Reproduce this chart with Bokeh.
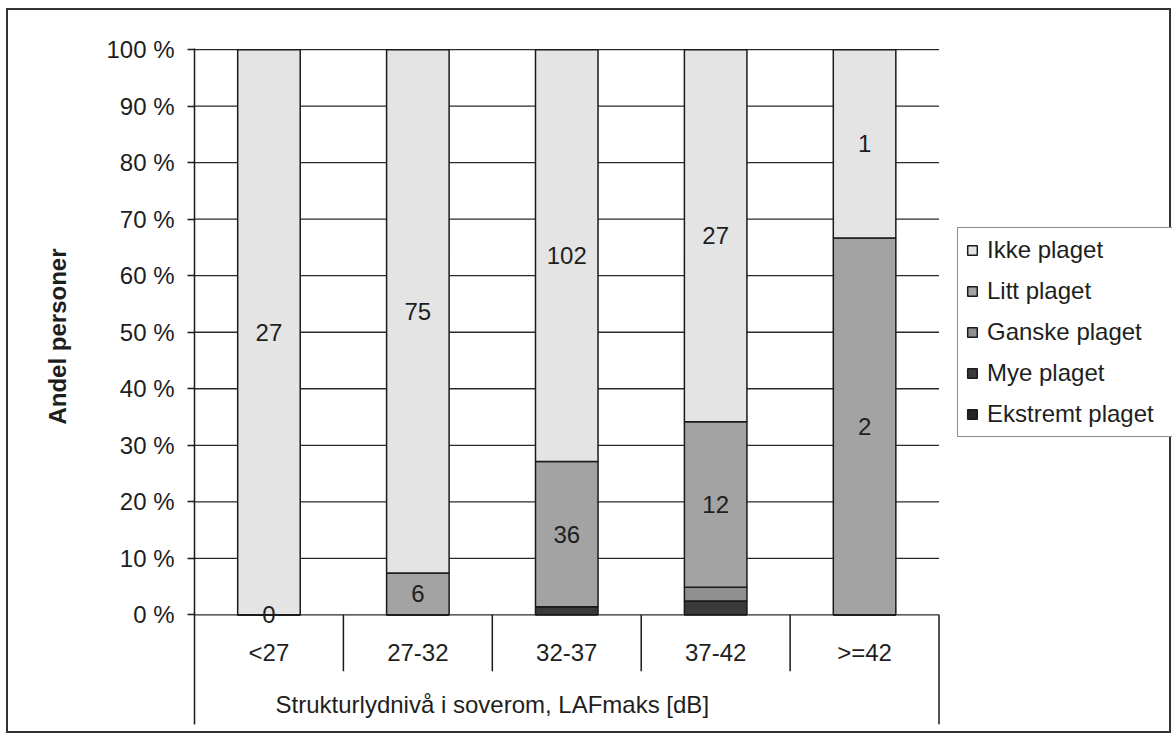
from bokeh.plotting import figure
from bokeh.models import (ColumnDataSource, Range1d, FixedTicker, PrintfTickFormatter,
                          Legend, LegendItem, Title)
from bokeh.core.properties import value
from bokeh.embed import file_html
from bokeh.resources import INLINE

# ---------------- data ----------------
categories = ["<27", "27-32", "32-37", "37-42", ">=42"]
ikke_plaget = [27, 75, 102, 27, 1]
litt_plaget = [0, 6, 36, 12, 2]
ganske_plaget = [0, 0, 0, 1, 0]
mye_plaget = [0, 0, 2, 1, 0]
ekstremt_plaget = [0, 0, 0, 0, 0]
series_names = ["Ikke plaget", "Litt plaget", "Ganske plaget", "Mye plaget", "Ekstremt plaget"]
y_ticks = [0, 10, 20, 30, 40, 50, 60, 70, 80, 90, 100]
x_title = "Strukturlydnivå i soverom, LAFmaks [dB]"
y_title = "Andel personer"

# ---------------- styling ----------------
FONT = "Liberation Sans"
FS = "24px"
INK = "#1e1e1e"
LINE = "#1a1a1a"
colors = {"Ikke plaget": "#e4e4e4", "Litt plaget": "#a3a3a3", "Ganske plaget": "#8f8f8f",
          "Mye plaget": "#3a3a3a", "Ekstremt plaget": "#262626"}

series = {"Ikke plaget": ikke_plaget, "Litt plaget": litt_plaget, "Ganske plaget": ganske_plaget,
          "Mye plaget": mye_plaget, "Ekstremt plaget": ekstremt_plaget}
keys = {"Ikke plaget": "ikke", "Litt plaget": "litt", "Ganske plaget": "ganske",
        "Mye plaget": "mye", "Ekstremt plaget": "ekstremt"}
n = len(categories)
totals = [sum(series[s][i] for s in series_names) for i in range(n)]

xs = [i + 0.5 for i in range(n)]
data = {"x": xs, "cat": categories}
for s in series_names:
    data[keys[s]] = [series[s][i] / totals[i] * 100.0 for i in range(n)]
source = ColumnDataSource(data)

# layout constants: the frame reaches below 0 % (category band) and right (legend area)
X_END = n * 977.0 / 743.0
Y_BOTTOM = -19.4
SEP_Y = -10.0
LABEL_Y = -6.6
TITLE_Y = -15.85
TITLE_X = 2.0

p = figure(width=1161, height=721, x_range=Range1d(0, X_END), y_range=Range1d(Y_BOTTOM, 100.2),
           output_backend="svg", toolbar_location=None, x_axis_location=None,
           min_border_left=184, min_border_right=0, min_border_top=38, min_border_bottom=11)
p.background_fill_color = "white"
p.border_fill_color = "white"
p.outline_line_color = None
p.styles = {"border": "2px solid #333333", "box-sizing": "content-box",
            "margin-left": "6px", "margin-top": "8px"}

# horizontal gridlines across the category area only
p.xgrid.visible = False
p.ygrid.visible = False
p.segment(x0=[0] * len(y_ticks), y0=y_ticks, x1=[n] * len(y_ticks), y1=y_ticks,
          line_color="#2a2a2a", line_width=1.3)

stack_order = ["Ekstremt plaget", "Mye plaget", "Ganske plaget", "Litt plaget", "Ikke plaget"]
renderers = p.vbar_stack([keys[s] for s in stack_order], x="x", width=0.42, source=source,
                         fill_color=[colors[s] for s in stack_order],
                         line_color=LINE, line_width=1.5)
rmap = dict(zip(stack_order, renderers))

# value labels (Ikke plaget and Litt plaget series)
lab_x, lab_y, lab_t = [], [], []
for i in range(n):
    base = 0.0
    for s in stack_order:
        h = data[keys[s]][i]
        if s in ("Litt plaget", "Ikke plaget"):
            lab_x.append(xs[i])
            lab_y.append(base + h / 2.0)
            lab_t.append(str(series[s][i]))
        base += h
p.text(x=lab_x, y=lab_y, text=lab_t, text_align="center", text_baseline="middle",
       text_font=value(FONT), text_font_size=FS, text_color=INK)

# category axis band: separators, category labels and group title
bounds = list(range(1, n))
p.segment(x0=bounds, y0=[0] * len(bounds), x1=bounds, y1=[SEP_Y] * len(bounds),
          line_color=LINE, line_width=1.5)
p.segment(x0=[n], y0=[0], x1=[n], y1=[Y_BOTTOM], line_color=LINE, line_width=1.5)
p.text(x=xs, y=[LABEL_Y] * n, text=categories, text_align="center", text_baseline="middle",
       text_font=value(FONT), text_font_size=FS, text_color=INK)
p.text(x=[TITLE_X], y=[TITLE_Y], text=[x_title], text_align="center", text_baseline="middle",
       text_font=value(FONT), text_font_size=FS, text_color=INK)

# y axis
ya = p.yaxis[0]
ya.ticker = FixedTicker(ticks=y_ticks)
ya.formatter = PrintfTickFormatter(format="%d %%")
ya.major_tick_out = 7
ya.major_tick_in = 0
ya.minor_tick_out = 0
ya.minor_tick_in = 0
ya.major_label_standoff = 13
ya.major_label_text_font = FONT
ya.major_label_text_font_size = FS
ya.major_label_text_color = INK
ya.axis_line_color = LINE
ya.axis_line_width = 1.5
ya.major_tick_line_color = LINE
ya.major_tick_line_width = 1.5

p.add_layout(Title(text=y_title, align="right", offset=200, standoff=66,
                   text_font=FONT, text_font_size=FS, text_font_style="bold",
                   text_color=INK), "left")

# legend (its right edge runs past the chart border, as in the original)
legend = Legend(items=[LegendItem(label=s, renderers=[rmap[s]]) for s in series_names],
                location=(763, 287), margin=0, padding=8, spacing=13,
                glyph_width=12, glyph_height=12, label_standoff=9, label_height=28,
                label_width=200,
                label_text_font=FONT, label_text_font_size=FS, label_text_color=INK,
                border_line_color=LINE, border_line_width=1.5,
                background_fill_color="white", background_fill_alpha=1.0)
p.add_layout(legend)

open("out.html", "w").write(file_html(p, INLINE))
